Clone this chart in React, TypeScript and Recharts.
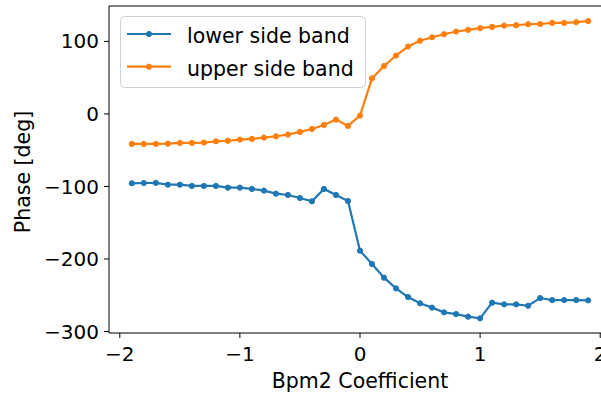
import { LineChart, Line, XAxis, YAxis, Legend, Label, ReferenceLine } from 'recharts'

const coefficients = [
  -1.9, -1.8, -1.7, -1.6, -1.5, -1.4, -1.3, -1.2, -1.1, -1.0, -0.9, -0.8, -0.7, -0.6, -0.5, -0.4, -0.3, -0.2, -0.1,
  0.0, 0.1, 0.2, 0.3, 0.4, 0.5, 0.6, 0.7, 0.8, 0.9, 1.0, 1.1, 1.2, 1.3, 1.4, 1.5, 1.6, 1.7, 1.8, 1.9,
]

const lowerSideBand = [
  -95.6, -95.2, -95.0, -97.5, -97.5, -99.3, -99.3, -99.3, -101.6, -101.6, -103.4, -105.7, -109.9, -111.7, -115.9,
  -120.5, -103.4, -111.7, -120.0, -188.5, -206.9, -225.7, -240.5, -252.4, -261.0, -267.0, -273.5, -275.9, -279.5,
  -281.8, -260.2, -262.5, -262.5, -264.4, -253.8, -256.6, -256.6, -256.6, -257.0,
]

const upperSideBand = [
  -41.4, -41.4, -41.4, -41.0, -40.0, -40.0, -39.5, -37.7, -37.0, -35.4, -34.5, -32.6, -30.8, -28.5, -24.8, -20.7,
  -15.2, -7.8, -16.5, -2.3, 49.0, 66.0, 80.5, 92.9, 101.0, 105.7, 109.9, 113.6, 115.9, 118.2, 120.0, 121.8, 122.3,
  123.7, 124.0, 125.5, 125.5, 126.5, 128.0,
]

const xTicks = [-2, -1, 0, 1, 2]
const yTicks = [-300, -200, -100, 0, 100]
const yDomain = [-302, 148.8]

const FONT = '"DejaVu Sans", sans-serif'
const BLUE = '#1f77b4'
const ORANGE = '#ff7f0e'

const data = coefficients.map((x, i) => ({ x, lower: lowerSideBand[i], upper: upperSideBand[i] }))

const minus = (v: number) => String(v).replace('-', '\u2212')

function LegendBox({ payload }: any) {
  const items = (payload || []) as { value: string; color: string }[]
  return (
    <svg width={248} height={74} style={{ display: 'block', fontFamily: FONT }}>
      <rect x={0.5} y={0.5} width={245} height={71} rx={4} fill="#fff" fillOpacity={0.8} stroke="#d0d0d0" />
      {items.map((it, i) => {
        const cy = 18 + i * 32.7
        return (
          <g key={it.value}>
            <line x1={7} x2={51} y1={cy} y2={cy} stroke={it.color} strokeWidth={2.2} />
            <circle cx={29} cy={cy} r={2.6} fill={it.color} stroke={it.color} strokeWidth={1} />
            <text x={67} y={cy + 9.4} fontSize={20.5} fill="#000">
              {it.value}
            </text>
          </g>
        )
      })}
    </svg>
  )
}

export default function App() {
  return (
    <div style={{ position: 'fixed', left: 0, top: 0, width: 601, height: 394, overflow: 'hidden', background: '#fff' }}>
      <LineChart width={620} height={394} data={data} margin={{ top: 6, right: 9, left: 0, bottom: 0 }}>
        <XAxis
          dataKey="x"
          type="number"
          domain={[-2.09, 2.09]}
          ticks={xTicks}
          allowDataOverflow
          height={61}
          tickSize={5}
          tickMargin={9}
          stroke="#000"
          tick={{ fill: '#000', fontSize: 20, fontFamily: FONT }}
          tickFormatter={minus}
        >
          <Label value="Bpm2 Coefficient" position="insideBottom" offset={6} style={{ fontSize: 20.5, fontFamily: FONT, fill: '#000' }} />
        </XAxis>
        <YAxis
          type="number"
          domain={yDomain}
          ticks={yTicks}
          allowDataOverflow
          width={109}
          tickSize={5}
          tickMargin={5}
          stroke="#000"
          tick={{ fill: '#000', fontSize: 20, fontFamily: FONT }}
          tickFormatter={minus}
        >
          <Label
            content={() => (
              <text
                x={29.5}
                y={172}
                transform="rotate(-90, 29.5, 172)"
                textAnchor="middle"
                fontSize={20.5}
                fontFamily={FONT}
                fill="#000"
              >
                Phase [deg]
              </text>
            )}
          />
        </YAxis>
        <ReferenceLine y={yDomain[1]} stroke="#000" strokeWidth={1} ifOverflow="visible" />
        <Legend
          layout="horizontal"
          verticalAlign="middle"
          align="center"
          wrapperStyle={{ position: 'absolute', left: 120, top: 16, width: 248, height: 74 }}
          content={(props: any) => <LegendBox payload={props.payload} />}
        />
        <Line
          dataKey="lower"
          name="lower side band"
          stroke={BLUE}
          strokeWidth={2.2}
          dot={{ r: 2.6, fill: BLUE, stroke: BLUE, strokeWidth: 1 }}
          activeDot={false}
          isAnimationActive={false}
        />
        <Line
          dataKey="upper"
          name="upper side band"
          stroke={ORANGE}
          strokeWidth={2.2}
          dot={{ r: 2.6, fill: ORANGE, stroke: ORANGE, strokeWidth: 1 }}
          activeDot={false}
          isAnimationActive={false}
        />
      </LineChart>
    </div>
  )
}
